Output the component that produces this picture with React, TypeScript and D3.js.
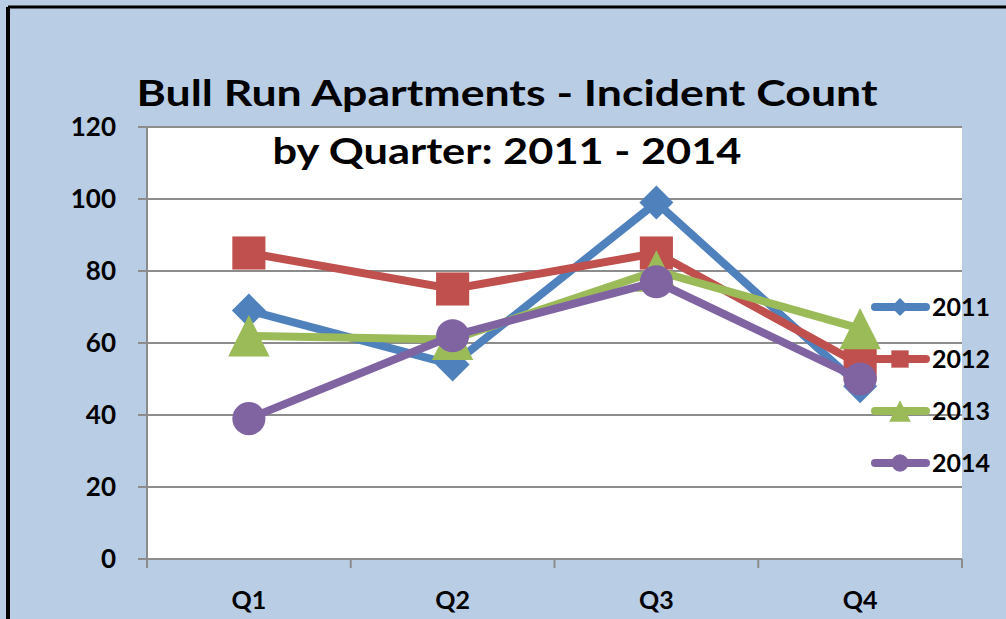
import React from "react";
import * as d3 from "d3";

const categories = ["Q1", "Q2", "Q3", "Q4"];
const seriesNames = ["2011", "2012", "2013", "2014"];
const values2011 = [69, 54, 99, 48];
const values2012 = [85, 75, 85, 54];
const values2013 = [62, 61, 80, 64];
const values2014 = [39, 62, 77, 50];
const yTicks = [0, 20, 40, 60, 80, 100, 120];
const colors = ["#4f81bd", "#c0504d", "#9bbb59", "#8064a2"];
const shapes = ["diamond", "square", "triangle", "circle"];

const W = 1006, H = 619;
const plot = { left: 147, right: 962, top: 127, bottom: 559 };
const FONT = "Lato, 'Open Sans', sans-serif";

function Marker({ shape, x, y, size, color }: any) {
  const r = size / 2;
  if (shape === "diamond") {
    const p = `${x},${y - r} ${x + r},${y} ${x},${y + r} ${x - r},${y}`;
    return <polygon points={p} fill={color} />;
  }
  if (shape === "square") return <rect x={x - r * 0.72} y={y - r * 0.72} width={r * 1.44} height={r * 1.44} fill={color} />;
  if (shape === "triangle") {
    const h = r * 0.9;
    const p = `${x},${y - h} ${x + h},${y + h} ${x - h},${y + h}`;
    return <polygon points={p} fill={color} />;
  }
  return <circle cx={x} cy={y} r={r * 0.72} fill={color} />;
}

export default function App() {
  const data = [values2011, values2012, values2013, values2014];
  const x = d3.scaleBand().domain(categories).range([plot.left, plot.right]);
  const y = d3.scaleLinear().domain([0, 120]).range([plot.bottom, plot.top]);
  const cx = (c: string) => (x(c) as number) + x.bandwidth() / 2;
  const line = d3.line<number>().x((_, i) => cx(categories[i])).y((v) => y(v));
  const grid = "#8c8c8c";
  const boundaries = [...categories.map((c) => x(c) as number), plot.right];
  const legendY = [307, 359, 411, 463];
  return (
    <svg width={W} height={H} style={{ position: "absolute", left: 0, top: 0 }}>
      <rect x={0} y={0} width={W} height={H} fill="#b9cde5" />
      <line x1={8} y1={7} x2={W} y2={7} stroke="#000" strokeWidth={3} />
      <line x1={8} y1={7} x2={8} y2={H} stroke="#000" strokeWidth={4} />
      <rect x={plot.left} y={plot.top} width={plot.right - plot.left} height={plot.bottom - plot.top} fill="#fff" />
      {yTicks.map((t) => (
        <g key={t}>
          <line x1={plot.left - 9} x2={plot.right} y1={y(t)} y2={y(t)} stroke={grid} strokeWidth={2} />
          <text x={116} y={y(t) + 9} textAnchor="end" fontFamily={FONT} fontWeight="bold" fontSize={26} fill="#000">{t}</text>
        </g>
      ))}
      <line x1={plot.left} x2={plot.left} y1={plot.top} y2={plot.bottom} stroke={grid} strokeWidth={2} />
      {boundaries.map((b, i) => (
        <line key={i} x1={b} x2={b} y1={plot.bottom} y2={plot.bottom + 9} stroke={grid} strokeWidth={2} />
      ))}
      {categories.map((c) => (
        <text key={c} x={cx(c)} y={609} textAnchor="middle" fontFamily={FONT} fontWeight="bold" fontSize={25} fill="#000">{c}</text>
      ))}
      {data.map((vals, si) => (
        <g key={si}>
          <path d={line(vals) as string} fill="none" stroke={colors[si]} strokeWidth={8} strokeLinejoin="miter" />
          {vals.map((v, i) => (
            <Marker key={i} shape={shapes[si]} x={cx(categories[i])} y={y(v)} size={si === 0 ? 34 : 46} color={colors[si]} />
          ))}
        </g>
      ))}
      {seriesNames.map((n, si) => (
        <g key={n}>
          <line x1={875} x2={926} y1={legendY[si]} y2={legendY[si]} stroke={colors[si]} strokeWidth={8} strokeLinecap="round" />
          <Marker shape={shapes[si]} x={900} y={legendY[si]} size={si === 0 ? 18 : 24} color={colors[si]} />
          <text x={932} y={legendY[si] + 9} fontFamily={FONT} fontWeight="bold" fontSize={25} fill="#000">{n}</text>
        </g>
      ))}
      <text x={507} y={106} textAnchor="middle" fontFamily={FONT} fontWeight="bold" fontSize={37} textLength={741} lengthAdjust="spacingAndGlyphs" fill="#000">Bull Run Apartments - Incident Count</text>
      <text x={507} y={164} textAnchor="middle" fontFamily={FONT} fontWeight="bold" fontSize={37} textLength={469} lengthAdjust="spacingAndGlyphs" fill="#000">by Quarter: 2011 - 2014</text>
    </svg>
  );
}
